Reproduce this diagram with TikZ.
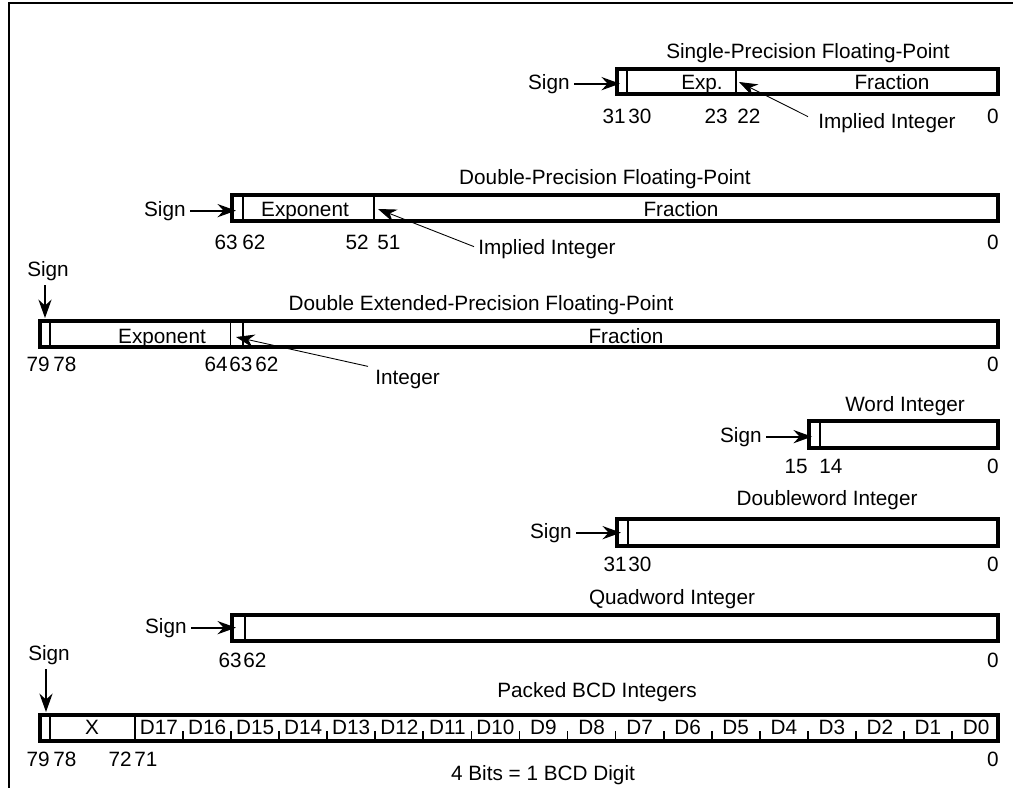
\documentclass[tikz,border=0pt]{standalone}
\usepackage{fontspec}
\setmainfont{Liberation Sans}
\usetikzlibrary{arrows.meta}

\begin{document}
\begin{tikzpicture}[
		x=0.02cm, y=-0.02cm,
		>={Stealth[length=10.5pt, width=7.5pt]},
		every node/.style={font=\fontsize{11.8}{14}\selectfont, inner sep=0pt},
		frame/.style={line width=1.7pt},
		field/.style={draw, line width=2pt},
		divider/.style={line width=1pt},
		ptr/.style={->, line width=1pt, shorten <=2.5pt},
		lead/.style={->, line width=0.5pt},
		ttl/.style={anchor=base},
		lbl/.style={anchor=base},
		nl/.style={anchor=base east},
		nr/.style={anchor=base west}
	]

	\useasboundingbox (0,0) rectangle (1013,788);
	\draw[frame] (1013,3) -- (9,3) -- (9,788);

	% Single precision
	\node[ttl] (tS) at (808,58) {Single-Precision Floating-Point};
	\draw[field] (617,69) rectangle (998,94);
	\draw[divider] (627,69) -- (627,94) (736,69) -- (736,94);
	\node[lbl] (eS) at (702,89) {Exp.};
	\node[lbl] (fS) at (892,89) {Fraction};
	\node[nl] (sS) at (570,89) {Sign};
	\coordinate (sgnS) at (620,84);
	\node[nl] (b31S) at (626,123) {31};
	\node[nr] (b30S) at (628,123) {30};
	\node[nl] (b23S) at (728,123) {23};
	\node[nr] (b22S) at (737,123) {22};
	\node[nl] (b0S) at (999,123) {0};
	\node[nr] (impS) at (818,128) {Implied Integer};
	\coordinate (tipS) at (739,82);

	% Double precision
	\node[ttl] (tD) at (605,184) {Double-Precision Floating-Point};
	\draw[field] (232,195) rectangle (998,221);
	\draw[divider] (243,195) -- (243,221) (374,195) -- (374,221);
	\node[lbl] (eD) at (305,216) {Exponent};
	\node[lbl] (fD) at (681,216) {Fraction};
	\node[nl] (sD) at (186,216) {Sign};
	\coordinate (sgnD) at (236,210);
	\node[nl] (b63D) at (238,249) {63};
	\node[nr] (b62D) at (242,249) {62};
	\node[nl] (b52D) at (369,249) {52};
	\node[nr] (b51D) at (377,249) {51};
	\node[nl] (b0D) at (999,249) {0};
	\node[nr] (impD) at (478,254) {Implied Integer};
	\coordinate (tipD) at (378,209);

	% Double extended precision
	\node[ttl] (tE) at (481,310) {Double Extended-Precision Floating-Point};
	\draw[field] (40,321) rectangle (998,347);
	\draw[divider] (50,321) -- (50,347) (230.5,321) -- (230.5,347) (243,321) -- (243,347);
	\node[lbl] (eE) at (162,343) {Exponent};
	\node[lbl] (fE) at (626,343) {Fraction};
	\node[anchor=base] (sE) at (48,276) {Sign};
	\coordinate (sgnE) at (45,318);
	\node[nl] (b79E) at (50,371) {79};
	\node[nr] (b78E) at (53,371) {78};
	\node[nl] (b64E) at (228,371) {64};
	\node[nr] (b63E) at (229,371) {63};
	\node[nr] (b62E) at (255,371) {62};
	\node[nl] (b0E) at (999,371) {0};
	\node[nr] (intE) at (375,384) {Integer};
	\coordinate (tipE) at (236,337);

	% Word integer
	\node[ttl] (tW) at (905,411) {Word Integer};
	\draw[field] (809,421) rectangle (998,448);
	\draw[divider] (820,421) -- (820,448);
	\node[nl] (sW) at (762,442) {Sign};
	\coordinate (sgnW) at (812,436);
	\node[nl] (b15W) at (808,473) {15};
	\node[nr] (b14W) at (819,473) {14};
	\node[nl] (b0W) at (999,473) {0};

	% Doubleword integer
	\node[ttl] (tDW) at (827,505) {Doubleword Integer};
	\draw[field] (617,519) rectangle (998,546);
	\draw[divider] (628,519) -- (628,546);
	\node[nl] (sDW) at (572,538) {Sign};
	\coordinate (sgnDW) at (621,533);
	\node[nl] (b31DW) at (627,571) {31};
	\node[nr] (b30DW) at (628,571) {30};
	\node[nl] (b0DW) at (999,571) {0};

	% Quadword integer
	\node[ttl] (tQ) at (672,604) {Quadword Integer};
	\draw[field] (232,615) rectangle (998,641);
	\draw[divider] (245,615) -- (245,641);
	\node[nl] (sQ) at (187,633) {Sign};
	\coordinate (sgnQ) at (236,628);
	\node[nl] (b63Q) at (242,667) {63};
	\node[nr] (b62Q) at (243,667) {62};
	\node[nl] (b0Q) at (999,667) {0};

	% Packed BCD
	\node[ttl] (tP) at (597,697) {Packed BCD Integers};
	\draw[field] (40,715) rectangle (998,741);
	\draw[divider] (50,715) -- (50,741) (135,715) -- (135,741);
	\foreach \k in {1,...,17}
		\draw[divider] ({135+48.06*\k},741) -- ++(0,-10);
	\node[lbl] (xP) at (92,734) {X};
	\foreach \d in {0,...,17}
		\node[lbl] (d\d) at ({135+48.06*(17-\d)+24},734) {D\d};
	\node[anchor=base] (sP) at (49,660) {Sign};
	\coordinate (sgnP) at (46,712);
	\node[nl] (b79P) at (50,766) {79};
	\node[nr] (b78P) at (53,766) {78};
	\node[nl] (b72P) at (132,766) {72};
	\node[nr] (b71P) at (134,766) {71};
	\node[nl] (b0P) at (999,766) {0};
	\node[lbl] (bcd) at (543,780) {4 Bits = 1 BCD Digit};

	% Arrows
	\draw[ptr] (sS.east) -- (sS.east -| sgnS);
	\draw[ptr] (sD.east) -- (sD.east -| sgnD);
	\draw[ptr] (sW.east) -- (sW.east -| sgnW);
	\draw[ptr] (sDW.east) -- (sDW.east -| sgnDW);
	\draw[ptr] (sQ.east) -- (sQ.east -| sgnQ);
	\draw[ptr] (sE.south -| sgnE) -- (sgnE);
	\draw[ptr] (sP.south -| sgnP) -- (sgnP);

	\draw[lead] ([shift={(-10,-6)}]impS.west) -- (tipS);
	\draw[lead] ([shift={(-4,-2)}]impD.west) -- (tipD);
	\draw[lead] ([shift={(-7,-3)}]intE.north west) -- (tipE);

\end{tikzpicture}
\end{document}
